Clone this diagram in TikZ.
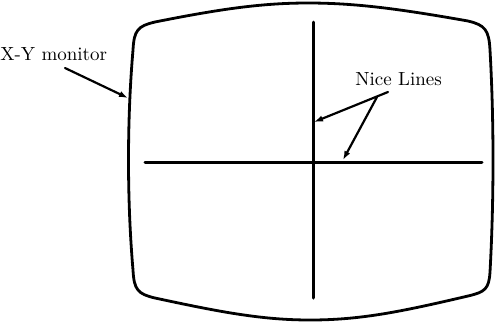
\documentclass[tikz,border=0pt]{standalone}
\usepackage{tikz}
\usetikzlibrary{arrows.meta,positioning,calc}

\begin{document}
\begin{tikzpicture}[x=0.5pt,y=-0.5pt,line cap=round,line join=round,
  lbl/.style={inner sep=0pt,anchor=base west,font=\fontsize{9.5}{11}\selectfont},
  ptr/.style={-{Latex[length=4.5pt,width=3.2pt]},line width=1.1pt}]
  \useasboundingbox(0,0)rectangle(499,323);
  % pantalla
  \draw[line width=1.4pt]
    (133,50)..controls(134,30)and(138,26)..(155,22)
    ..controls(220,9)and(262,3)..(308,3)
    ..controls(356,3)and(400,9)..(468,21)
    ..controls(485,25)and(489,30)..(490,50)
    ..controls(494,120)and(494,200)..(490,272)
    ..controls(489,289)and(485,292)..(468,296)
    ..controls(400,312)and(360,320)..(310,320)
    ..controls(262,320)and(220,312)..(155,298)
    ..controls(138,294)and(134,290)..(133,270)
    ..controls(127,200)and(127,120)..cycle;
  % ejes
  \coordinate(vtop)at(313,22);
  \coordinate(vbot)at(313,298);
  \coordinate(hl)at(145,162);
  \coordinate(hr)at(482,162);
  \draw[line width=1.5pt](vtop)--(vbot);
  \draw[line width=1.5pt](hl)--(hr);
  % etiquetas
  \node[lbl](mon)at(0,60){X-Y monitor};
  \node[lbl](nice)at(355,85){Nice Lines};
  \coordinate(m0)at(65,68);
  \coordinate(m1)at(128,98);
  \coordinate(n0)at(388,92);
  \coordinate(n1)at(377,97);
  \coordinate(t1)at(314,122);
  \coordinate(t2)at(343,160);
  \draw[ptr](m0)--(m1);
  \draw[ptr](n0)--(t1);
  \draw[ptr](n1)--(t2);
\end{tikzpicture}
\end{document}
